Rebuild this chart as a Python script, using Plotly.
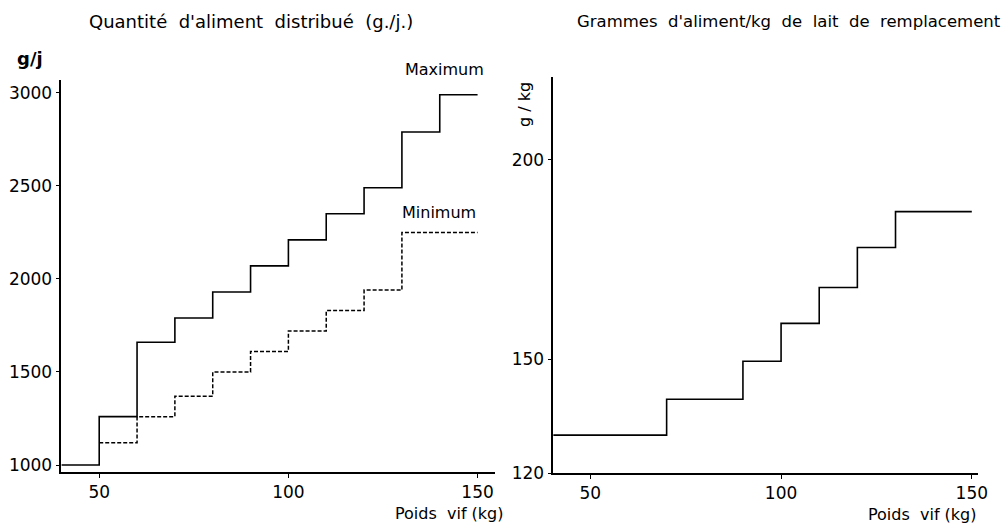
import plotly.graph_objects as go

W, H = 1003, 524
# effective drawing area the page is rendered into (measured from previous renders)
WE, HE = 987, 515

# Left panel: Quantité d'aliment distribué (g/j) vs Poids vif (kg)
max_x = [40, 50, 60, 70, 80, 90, 100, 110, 120, 130, 140, 150]
max_y = [1000, 1260, 1660, 1790, 1930, 2070, 2210, 2350, 2490, 2790, 2990, 2990]
min_x = [50, 60, 70, 80, 90, 100, 110, 120, 130, 150]
min_y = [1120, 1260, 1370, 1500, 1610, 1720, 1830, 1940, 2250, 2250]
left_yticks = [1000, 1500, 2000, 2500, 3000]
left_xticks = [50, 100, 150]

# Right panel: Grammes d'aliment / kg de lait de remplacement
r_x = [40, 70, 90, 100, 110, 120, 130, 150]
r_y = [131, 140, 149.5, 159, 168, 178, 187, 187]
right_yticks = [120, 150, 200]
right_xticks = [50, 100, 150]

# the right-hand axis is broken: its origin carries the label "120"
R_YMIN, R_YMAX = 121.5, 220.75
right_tickvals = [R_YMIN] + right_yticks[1:]

FONT = "DejaVu Sans"


def px(x):
    return x / WE


def py(y):
    return 1 - y / HE


fig = go.Figure()
fig.add_trace(go.Scatter(x=max_x, y=max_y, mode="lines", line=dict(shape="hv", color="black", width=1.6),
                         xaxis="x", yaxis="y", showlegend=False))
fig.add_trace(go.Scatter(x=min_x, y=min_y, mode="lines", line=dict(shape="hv", color="black", width=1.5, dash="4px,2px"),
                         xaxis="x", yaxis="y", showlegend=False))
fig.add_trace(go.Scatter(x=r_x, y=r_y, mode="lines", line=dict(shape="hv", color="black", width=1.6),
                         xaxis="x2", yaxis="y2", showlegend=False))

axis_common = dict(showgrid=False, zeroline=False, showline=True, linecolor="black", linewidth=1.6,
                   ticks="outside", ticklen=4, tickwidth=1.2, tickcolor="black",
                   tickfont=dict(family=FONT, size=17, color="black"))

fig.update_layout(
    width=W, height=H, autosize=False, margin=dict(l=0, r=0, t=0, b=0),
    paper_bgcolor="white", plot_bgcolor="white",
    xaxis=dict(domain=[px(61), px(492)], range=[40, 154.6], tickvals=left_xticks, anchor="y", **axis_common),
    yaxis=dict(domain=[py(473), py(80)], range=[962, 3070], tickvals=left_yticks, anchor="x", **axis_common),
    xaxis2=dict(domain=[px(550), px(972)], range=[40.3, 151.6], tickvals=right_xticks, anchor="y2", **axis_common),
    yaxis2=dict(domain=[py(474), py(77)], range=[R_YMIN, R_YMAX], tickvals=right_tickvals,
                ticktext=[str(v) for v in right_yticks], anchor="x2", **axis_common),
)

def ann(text, x, y, size=15, bold=False, angle=0, xanchor="center"):
    fig.add_annotation(text=f"<b>{text}</b>" if bold else text, x=px(x), y=py(y), xref="paper", yref="paper",
                       showarrow=False, textangle=angle, xanchor=xanchor, yanchor="middle",
                       font=dict(family=FONT, size=size, color="black"))

ann("Quantité  d'aliment  distribué  (g./j.)", 249, 22, size=18)
ann("Grammes  d'aliment/kg  de  lait  de  remplacement", 784, 22, size=16.5)
ann("g/j", 30, 59, size=18, bold=True)
ann("g / kg", 522, 105, size=16, angle=-90)
ann("Maximum", 442, 70, size=16)
ann("Minimum", 436, 213, size=16)
ann("Poids  vif (kg)", 503, 514, size=16, xanchor="right")
ann("Poids  vif (kg)", 973, 516, size=16, xanchor="right")

post = ("document.documentElement.style.margin='0';document.body.style.margin='0';"
        "document.body.style.padding='0';document.body.style.overflow='hidden';"
        "document.documentElement.style.overflow='hidden';")
fig.write_html("out.html", post_script=post,
               config={"displayModeBar": False, "responsive": False})
